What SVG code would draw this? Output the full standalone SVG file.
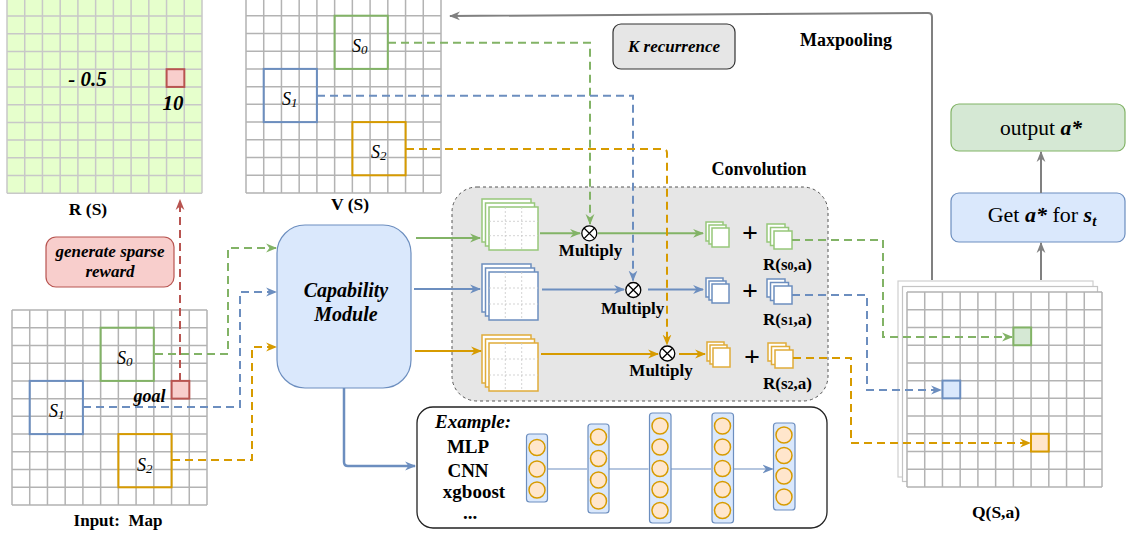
<svg xmlns="http://www.w3.org/2000/svg" xmlns:xlink="http://www.w3.org/1999/xlink" width="1127" height="535" viewBox="0 0 1127 535">
<style>
text{font-family:"Liberation Serif",serif;fill:#000}
.b{font-weight:bold}
.bi{font-weight:bold;font-style:italic}
.it{font-style:italic}
.gl{fill:none;stroke:#b3b3b3;stroke-width:1.5}
.glr{fill:none;stroke:#c8c8c8;stroke-width:1.5}
.dg{fill:none;stroke:#82b366;stroke-width:2;stroke-dasharray:8 5}
.db{fill:none;stroke:#6c8ebf;stroke-width:2;stroke-dasharray:8 5}
.do{fill:none;stroke:#d79b00;stroke-width:2;stroke-dasharray:8 5}
.dr{fill:none;stroke:#b85450;stroke-width:2;stroke-dasharray:8 5}
.sg{fill:none;stroke:#82b366;stroke-width:2}
.sb{fill:none;stroke:#6c8ebf;stroke-width:2}
.so{fill:none;stroke:#d79b00;stroke-width:2}
.kg{fill:#fff;stroke:#97c77a;stroke-width:1.5}
.kb{fill:#fff;stroke:#6c8ebf;stroke-width:1.5}
.ko{fill:#fff;stroke:#e0ac3a;stroke-width:1.5}
.kin{fill:none;stroke:#c8c8c8;stroke-width:0.8;stroke-dasharray:2 2}
.neur{fill:#ffe6cc;stroke:#d79b00;stroke-width:1.5}
.lay{fill:#dae8fc;stroke:#6c8ebf;stroke-width:1.2}
</style>
<defs>
<path id="grid" d="M0 0H195M0 17.73H195M0 35.45H195M0 53.18H195M0 70.91H195M0 88.64H195M0 106.36H195M0 124.09H195M0 141.82H195M0 159.55H195M0 177.27H195M0 195H195M0 0V195M17.73 0V195M35.45 0V195M53.18 0V195M70.91 0V195M88.64 0V195M106.36 0V195M124.09 0V195M141.82 0V195M159.55 0V195M177.27 0V195M195 0V195"/>
<marker id="mg" viewBox="0 0 10 10" refX="9" refY="5" markerWidth="11" markerHeight="11" markerUnits="userSpaceOnUse" orient="auto"><path d="M0,1 L10,5 L0,9 L3,5 z" fill="#82b366"/></marker>
<marker id="mb" viewBox="0 0 10 10" refX="9" refY="5" markerWidth="11" markerHeight="11" markerUnits="userSpaceOnUse" orient="auto"><path d="M0,1 L10,5 L0,9 L3,5 z" fill="#6c8ebf"/></marker>
<marker id="mo" viewBox="0 0 10 10" refX="9" refY="5" markerWidth="11" markerHeight="11" markerUnits="userSpaceOnUse" orient="auto"><path d="M0,1 L10,5 L0,9 L3,5 z" fill="#d79b00"/></marker>
<marker id="mr" viewBox="0 0 10 10" refX="9" refY="5" markerWidth="11" markerHeight="11" markerUnits="userSpaceOnUse" orient="auto"><path d="M0,1 L10,5 L0,9 L3,5 z" fill="#b85450"/></marker>
<marker id="mk" viewBox="0 0 10 10" refX="9" refY="5" markerWidth="11" markerHeight="11" markerUnits="userSpaceOnUse" orient="auto"><path d="M0,1 L10,5 L0,9 L3,5 z" fill="#808080"/></marker>
<g id="otimes"><circle r="7.5" fill="#fff" stroke="#000" stroke-width="1.3"/><path d="M-5.3,-5.3L5.3,5.3M-5.3,5.3L5.3,-5.3" stroke="#000" stroke-width="1.3"/></g>
</defs>

<!-- R(S) grid -->
<g id="rgrid">
<rect x="7" y="-1.7" width="195" height="195" fill="#e6ffcc"/>
<use xlink:href="#grid" class="glr" transform="translate(7,-1.7)"/>
<rect x="166.6" y="69.2" width="17.73" height="17.73" fill="#f8cecc" stroke="#b85450" stroke-width="2"/>
<text x="87.5" y="86" class="bi" font-size="21" text-anchor="middle">- 0.5</text>
<text x="173" y="110" class="bi" font-size="21" text-anchor="middle">10</text>
<text x="88" y="215" class="b" font-size="17.5" text-anchor="middle">R (S)</text>
</g>

<!-- V(S) grid -->
<g id="vgrid">
<rect x="246" y="-2" width="195" height="195" fill="#fff"/>
<use xlink:href="#grid" class="gl" transform="translate(246,-2)"/>
<rect x="334.6" y="15.7" width="53.2" height="53.2" fill="none" stroke="#82b366" stroke-width="2"/>
<rect x="263.7" y="68.9" width="53.2" height="53.2" fill="none" stroke="#6c8ebf" stroke-width="2"/>
<rect x="352.4" y="122.1" width="53.2" height="53.2" fill="none" stroke="#d79b00" stroke-width="2"/>
<text x="352" y="52" class="it" font-size="18">S<tspan font-size="13" dy="2">0</tspan></text>
<text x="282" y="105" class="it" font-size="18">S<tspan font-size="13" dy="2">1</tspan></text>
<text x="371" y="158" class="it" font-size="18">S<tspan font-size="13" dy="2">2</tspan></text>
<text x="350" y="210" class="b" font-size="17.5" text-anchor="middle">V (S)</text>
</g>

<!-- Input map -->
<g id="inputmap">
<rect x="12" y="310" width="195" height="195" fill="#fff"/>
<use xlink:href="#grid" class="gl" transform="translate(12,310)"/>
<rect x="100.6" y="327.7" width="53.2" height="53.2" fill="none" stroke="#82b366" stroke-width="2"/>
<rect x="29.7" y="380.9" width="53.2" height="53.2" fill="none" stroke="#6c8ebf" stroke-width="2"/>
<rect x="118.4" y="434.1" width="53.2" height="53.2" fill="none" stroke="#d79b00" stroke-width="2"/>
<rect x="171.6" y="380.9" width="17.73" height="17.73" fill="#f8cecc" stroke="#b85450" stroke-width="2"/>
<text x="117" y="364" class="it" font-size="18">S<tspan font-size="13" dy="2">0</tspan></text>
<text x="49" y="417" class="it" font-size="18">S<tspan font-size="13" dy="2">1</tspan></text>
<text x="137" y="471" class="it" font-size="18">S<tspan font-size="13" dy="2">2</tspan></text>
<text x="149.5" y="402" class="bi" font-size="18" text-anchor="middle">goal</text>
<text x="118" y="526" class="b" font-size="17" text-anchor="middle" xml:space="preserve">Input:  Map</text>
</g>

<!-- generate sparse reward -->
<g id="reward">
<rect x="46" y="237" width="128" height="50" rx="10" fill="#f8cecc" stroke="#b85450" stroke-width="1.2"/>
<text x="110" y="257" class="bi" font-size="17" text-anchor="middle">generate sparse</text>
<text x="110" y="277" class="bi" font-size="17" text-anchor="middle">reward</text>
</g>

<!-- Capability module -->
<g id="capability">
<rect x="277" y="225" width="134" height="163" rx="28" fill="#dae8fc" stroke="#6c8ebf" stroke-width="1.2"/>
<text x="346" y="297" class="bi" font-size="20" text-anchor="middle">Capability</text>
<text x="346" y="321" class="bi" font-size="20" text-anchor="middle">Module</text>
</g>

<!-- K recurrence -->
<g id="krec">
<rect x="613" y="24" width="122" height="45" rx="8" fill="#e6e6e6" stroke="#333" stroke-width="1.2"/>
<text x="674" y="52" class="bi" font-size="17" text-anchor="middle">K recurrence</text>
</g>
<text x="846" y="46" class="b" font-size="18" text-anchor="middle">Maxpooling</text>
<text x="759" y="175" class="b" font-size="18" text-anchor="middle">Convolution</text>

<!-- Convolution box -->
<g id="convolution">
<rect x="452" y="187" width="376" height="214" rx="25" fill="#e6e6e6" stroke="#555" stroke-width="1" stroke-dasharray="3 3"/>
<rect x="482" y="199" width="49" height="43" class="kg"/>
<rect x="485.5" y="203" width="49" height="43" class="kg"/>
<rect x="489" y="207" width="49" height="43" class="kg"/>
<path d="M505.3 207V250M521.7 207V250M489 221.3H538M489 235.7H538" class="kin"/>
<rect x="482" y="264" width="49" height="48" class="kb"/>
<rect x="485.5" y="268" width="49" height="48" class="kb"/>
<rect x="489" y="272" width="49" height="48" class="kb"/>
<path d="M505.3 272V320M521.7 272V320M489 288H538M489 304H538" class="kin"/>
<rect x="482" y="335" width="49" height="48" class="ko"/>
<rect x="485.5" y="339" width="49" height="48" class="ko"/>
<rect x="489" y="343" width="49" height="48" class="ko"/>
<path d="M505.3 343V391M521.7 343V391M489 359H538M489 375H538" class="kin"/>

<use xlink:href="#otimes" x="589.3" y="233.3"/>
<use xlink:href="#otimes" x="633.3" y="290"/>
<use xlink:href="#otimes" x="667.3" y="353.5"/>
<text x="590.5" y="256" class="b" font-size="17" text-anchor="middle">Multiply</text>
<text x="632.7" y="314" class="b" font-size="17" text-anchor="middle">Multiply</text>
<text x="661" y="376" class="b" font-size="17" text-anchor="middle">Multiply</text>

<rect x="706" y="222" width="17" height="19" class="kg"/><rect x="709" y="225" width="17" height="19" class="kg"/><rect x="712" y="228" width="17" height="19" class="kg"/>
<rect x="706" y="278" width="17" height="19" class="kb"/><rect x="709" y="281" width="17" height="19" class="kb"/><rect x="712" y="284" width="17" height="19" class="kb"/>
<rect x="707" y="342" width="17" height="19" class="ko"/><rect x="710" y="345" width="17" height="19" class="ko"/><rect x="713" y="348" width="17" height="19" class="ko"/>
<text x="750" y="242" class="b" font-size="28" text-anchor="middle">+</text>
<text x="750" y="300" class="b" font-size="28" text-anchor="middle">+</text>
<text x="752" y="366" class="b" font-size="28" text-anchor="middle">+</text>
<rect x="767" y="224" width="18" height="18" class="kg"/><rect x="770.5" y="227.5" width="18" height="18" class="kg"/><rect x="774" y="231" width="18" height="18" class="kg"/>
<rect x="767" y="279" width="18" height="18" class="kb"/><rect x="770.5" y="282.5" width="18" height="18" class="kb"/><rect x="774" y="286" width="18" height="18" class="kb"/>
<rect x="768" y="343" width="18" height="18" class="ko"/><rect x="771.5" y="346.5" width="18" height="18" class="ko"/><rect x="775" y="350" width="18" height="18" class="ko"/>
<text x="787.5" y="270" class="b" font-size="17" text-anchor="middle">R(s<tspan font-size="12">0</tspan>,a)</text>
<text x="787.5" y="325" class="b" font-size="17" text-anchor="middle">R(s<tspan font-size="12">1</tspan>,a)</text>
<text x="787.5" y="389" class="b" font-size="17" text-anchor="middle">R(s<tspan font-size="12">2</tspan>,a)</text>
</g>

<!-- Example box -->
<g id="example">
<rect x="417" y="407" width="410" height="121" rx="16" fill="#fff" stroke="#222" stroke-width="1.3"/>
<text x="473" y="428" class="bi" font-size="19" text-anchor="middle">Example:</text>
<text x="468" y="453" class="b" font-size="19" text-anchor="middle">MLP</text>
<text x="468" y="477" class="b" font-size="19" text-anchor="middle">CNN</text>
<text x="474" y="498" class="b" font-size="19" text-anchor="middle">xgboost</text>
<text x="470" y="519" class="b" font-size="19" text-anchor="middle">...</text>
<rect x="526.5" y="434" width="21" height="68" rx="3" class="lay"/>
<circle cx="537" cy="447.5" r="8" class="neur"/><circle cx="537" cy="469" r="8" class="neur"/><circle cx="537" cy="490" r="8" class="neur"/>
<rect x="588" y="424" width="21" height="89" rx="3" class="lay"/>
<circle cx="598.5" cy="437" r="8" class="neur"/><circle cx="598.5" cy="458.5" r="8" class="neur"/><circle cx="598.5" cy="480" r="8" class="neur"/><circle cx="598.5" cy="501" r="8" class="neur"/>
<rect x="649.5" y="413" width="21.5" height="110" rx="3" class="lay"/>
<circle cx="660" cy="426" r="8" class="neur"/><circle cx="660" cy="447" r="8" class="neur"/><circle cx="660" cy="468.5" r="8" class="neur"/><circle cx="660" cy="489.5" r="8" class="neur"/><circle cx="660" cy="510.5" r="8" class="neur"/>
<rect x="712" y="413" width="21.5" height="110" rx="3" class="lay"/>
<circle cx="722.5" cy="426" r="8" class="neur"/><circle cx="722.5" cy="447" r="8" class="neur"/><circle cx="722.5" cy="468.5" r="8" class="neur"/><circle cx="722.5" cy="489.5" r="8" class="neur"/><circle cx="722.5" cy="510.5" r="8" class="neur"/>
<rect x="773.5" y="423" width="21.5" height="87" rx="3" class="lay"/>
<circle cx="784" cy="435" r="8" class="neur"/><circle cx="784" cy="455.5" r="8" class="neur"/><circle cx="784" cy="476" r="8" class="neur"/><circle cx="784" cy="497" r="8" class="neur"/>
<path d="M547.5 469H587M609 469H648.5M671 469H711M733.5 469H772.5" fill="none" stroke="#6c8ebf" stroke-width="1.2" marker-end="url(#mb)"/>
</g>

<!-- Q(S,a) -->
<g id="qgrid">
<rect x="898" y="281" width="195" height="196" fill="#fff" stroke="#cfcfcf" stroke-width="1.2"/>
<rect x="902.5" y="286.5" width="195" height="195" fill="#fff" stroke="#c4c4c4" stroke-width="1.2"/>
<rect x="907" y="292" width="195" height="195" fill="#fff"/>
<use xlink:href="#grid" class="gl" transform="translate(907,292)"/>
<rect x="1013.4" y="327.5" width="17.73" height="17.73" fill="#d5e8d4" stroke="#82b366" stroke-width="2"/>
<rect x="942.5" y="380.6" width="17.73" height="17.73" fill="#dae8fc" stroke="#6c8ebf" stroke-width="2"/>
<rect x="1031" y="433.8" width="17.73" height="17.73" fill="#ffe6cc" stroke="#d79b00" stroke-width="2"/>
<text x="996" y="518" class="b" font-size="17.5" text-anchor="middle">Q(S,a)</text>
</g>

<!-- Get a* / output -->
<g id="geta">
<rect x="951" y="193" width="174" height="49" rx="8" fill="#dae8fc" stroke="#6c8ebf" stroke-width="1.2"/>
<text x="1042" y="222" font-size="22" text-anchor="middle">Get <tspan class="bi">a*</tspan> for <tspan class="bi">s<tspan font-size="15" dy="4">t</tspan></tspan></text>
</g>
<g id="output">
<rect x="951" y="104" width="174" height="47" rx="8" fill="#d5e8d4" stroke="#82b366" stroke-width="1.2"/>
<text x="1041" y="135" font-size="21.5" text-anchor="middle">output <tspan class="bi">a*</tspan></text>
</g>

<!-- connectors -->
<g id="connectors">
<path d="M155 354H228V248H276" class="dg" marker-end="url(#mg)"/>
<path d="M83 407H240V292H276" class="db" marker-end="url(#mb)"/>
<path d="M172 460H252V347H276" class="do" marker-end="url(#mo)"/>
<path d="M180 381V200" class="dr" marker-end="url(#mr)"/>
<path d="M416 238H480" class="sg" marker-end="url(#mg)"/>
<path d="M414 289H480" class="sb" marker-end="url(#mb)"/>
<path d="M415 351H481" class="so" marker-end="url(#mo)"/>
<path d="M344 388V462Q344 466 348 466H415" fill="none" stroke="#6c8ebf" stroke-width="2.5" marker-end="url(#mb)"/>
<path d="M540 233.3H580" class="sg" marker-end="url(#mg)"/>
<path d="M542 289.5H624" class="sb" marker-end="url(#mb)"/>
<path d="M541 354H658" class="so" marker-end="url(#mo)"/>
<path d="M598 233.3H703" class="sg" marker-end="url(#mg)"/>
<path d="M648 289.5H703" class="sb" marker-end="url(#mb)"/>
<path d="M679 354H705" class="so" marker-end="url(#mo)"/>
<path d="M388 42.7H590V224" class="dg" marker-end="url(#mg)"/>
<path d="M317 95.7H633V280.5" class="db" marker-end="url(#mb)"/>
<path d="M406 149H663Q667 149 667 153V344.5" class="do" marker-end="url(#mo)"/>
<path d="M792 240H883V337H1012" class="dg" marker-end="url(#mg)"/>
<path d="M792 295H867V390H941" class="db" marker-end="url(#mb)"/>
<path d="M793 358H851V443H1030" class="do" marker-end="url(#mo)"/>
<path d="M932 280V17Q932 13 928 13L450 16" fill="none" stroke="#808080" stroke-width="2" marker-end="url(#mk)"/>
<path d="M1041 280V243" fill="none" stroke="#808080" stroke-width="2" marker-end="url(#mk)"/>
<path d="M1041 193V152" fill="none" stroke="#808080" stroke-width="2" marker-end="url(#mk)"/>
</g>
</svg>
